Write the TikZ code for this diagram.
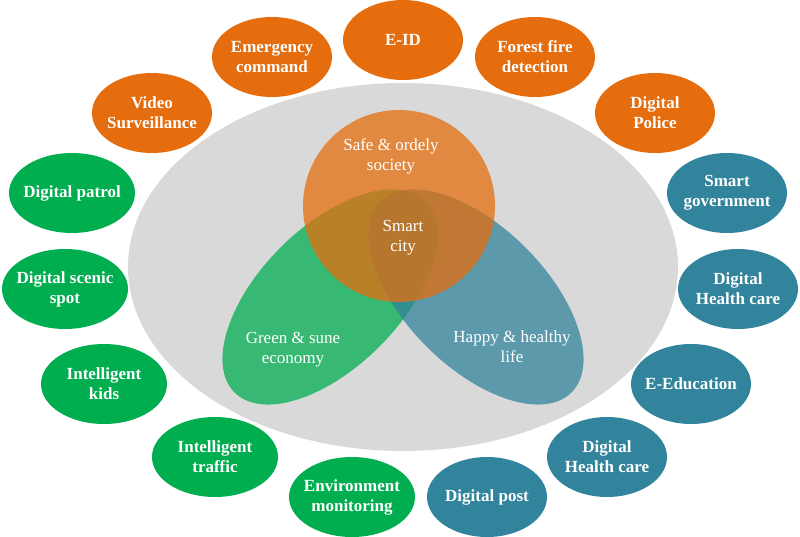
\documentclass[tikz,border=0pt]{standalone}
\usepackage{fontspec}
\setmainfont{Liberation Serif}
\usetikzlibrary{shapes.geometric}
\definecolor{orng}{HTML}{E56D0D}
\definecolor{grn}{HTML}{00AE50}
\definecolor{teal2}{HTML}{31849B}
\definecolor{bg}{HTML}{D9D9D9}
\tikzset{
  itemtext/.style={text=white, align=center, inner sep=0pt, font=\bfseries\fontsize{17}{20}\selectfont},
  item/.style={ellipse, minimum width=120pt, minimum height=80pt, inner sep=0pt},
  oitem/.style={item, fill=orng},
  gitem/.style={item, fill=grn, minimum width=126pt},
  titem/.style={item, fill=teal2},
  venn/.style={ellipse, inner sep=0pt, fill opacity=0.74, draw=none},
  vlabel/.style={text=white, align=center, font=\fontsize{17}{20}\selectfont}
}
\begin{document}
\begin{tikzpicture}[x=1pt,y=-1pt]
\useasboundingbox (0,0) rectangle (800,537);
% big background ellipse
\node[ellipse, fill=bg, minimum width=550pt, minimum height=368pt, inner sep=0pt] (bg) at (403,267) {};
% venn
\node[venn, fill=grn, minimum width=270pt, minimum height=140pt, rotate=45] (green) at (330,297) {};
\node[venn, fill=teal2, minimum width=270pt, minimum height=140pt, rotate=-45] (tealv) at (476,297) {};
\node[venn, circle, fill=orng, minimum size=192pt] (orange) at (399,206) {};
\node[vlabel] (safe) at (391,156) {Safe \& ordely\\society};
\node[vlabel] (smart) at (403,238) {Smart\\city};
\node[vlabel] (gsl) at (293,350) {Green \& sune\\economy};
\node[vlabel] (hhl) at (512,347) {Happy \& healthy\\life};
% orange items
\node[oitem, label={[itemtext]center:Emergency\\command}] (emc) at (272,57) {};
\node[oitem, label={[itemtext]center:E-ID}] (eid) at (403,40) {};
\node[oitem, label={[itemtext]center:Forest fire\\detection}] (ffd) at (535,57) {};
\node[oitem, label={[itemtext]center:Digital\\Police}] (dpol) at (655,113) {};
\node[oitem, label={[itemtext]center:Video\\Surveillance}] (vs) at (152,113) {};
% green items
\node[gitem, label={[itemtext]center:Digital patrol}] (dpat) at (72,193) {};
\node[gitem, label={[itemtext]center:Digital scenic\\spot}] (dss) at (65,289) {};
\node[gitem, label={[itemtext]center:Intelligent\\kids}] (ik) at (104,384) {};
\node[gitem, label={[itemtext]center:Intelligent\\traffic}] (it) at (215,457) {};
\node[gitem, label={[itemtext]center:Environment\\monitoring}] (em) at (352,497) {};
% teal items
\node[titem, label={[itemtext]center:Smart\\government}] (sg) at (727,193) {};
\node[titem, label={[itemtext]center:Digital\\Health care}] (dhc1) at (738,289) {};
\node[titem, label={[itemtext]center:E-Education}] (eed) at (691,384) {};
\node[titem, label={[itemtext]center:Digital\\Health care}] (dhc2) at (607,457) {};
\node[titem, label={[itemtext]center:Digital post}] (dpost) at (487,497) {};
\end{tikzpicture}
\end{document}
